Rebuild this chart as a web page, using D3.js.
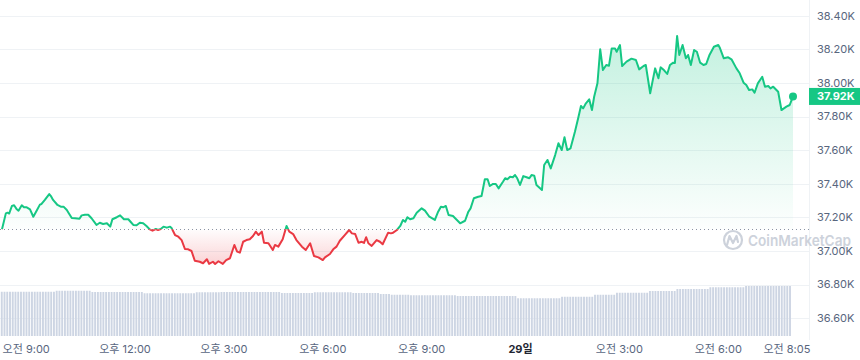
<!DOCTYPE html>
<html lang="ko">
<head>
<meta charset="utf-8">
<title>BTC 1D</title>
<script src="https://cdn.jsdelivr.net/npm/d3@7"></script>
<style>
body { margin: 0; background: #fff; }
svg { display: block; font-family: Inter, "Noto Sans CJK KR", sans-serif; }
.grid line { stroke: #eff2f5; stroke-width: 1; }
.ylab { fill: #58667e; font-size: 11px; }
.xlab { fill: #58667e; font-size: 11px; }
</style>
</head>
<body>
<script>

// price series (5-min candles)
var times = [
  "08:16","08:23","08:26","08:29","08:34","08:38","08:43","08:46","08:52","08:56",
  "09:01","09:07","09:13","09:19","09:25","09:28","09:34","09:42","09:45","09:49","09:57",
  "10:03","10:08","10:14","10:17","10:23","10:29","10:37","10:41","10:47","10:53","10:59",
  "11:08","11:14","11:20","11:27","11:33","11:37","11:45","11:51","11:58",
  "12:06","12:10","12:15","12:21","12:27","12:33","12:39","12:45","12:50","12:56",
  "13:00","13:05","13:10","13:16","13:22","13:25","13:31","13:37","13:43","13:49","13:55",
  "14:01","14:07","14:16","14:22","14:29","14:33","14:40","14:44","14:50","14:58",
  "15:04","15:11","15:19","15:24","15:29","15:35","15:41","15:47","15:53","15:58",
  "16:03","16:09","16:13","16:21","16:29","16:33","16:39","16:47","16:54","16:59",
  "17:06","17:12","17:22","17:29","17:37","17:44","17:52",
  "18:00","18:04","18:13","18:19","18:25","18:31","18:40","18:48","18:53","18:59",
  "19:05","19:11","19:15","19:19","19:23","19:29","19:38","19:44","19:49","19:59",
  "20:04","20:08","20:15","20:21","20:26","20:30","20:34","20:39","20:45","20:51",
  "21:00","21:06","21:14","21:24","21:30","21:35","21:39","21:44","21:49","21:57",
  "22:01","22:10","22:19","22:25","22:29","22:35","22:43","22:49","22:55",
  "23:00","23:04","23:10","23:15","23:20","23:28","23:32","23:36","23:41","23:46","23:50","23:54","23:59",
  "00:05","00:11","00:16","00:20","00:25","00:29","00:39","00:43","00:49","00:55",
  "01:03","01:09","01:15","01:20","01:25","01:31","01:39","01:45","01:50","01:54","01:59",
  "02:05","02:10","02:14","02:20","02:25","02:30","02:36","02:41","02:46","02:52","02:55",
  "03:01","03:05","03:13","03:22","03:30","03:36","03:44","03:48","03:56",
  "04:05","04:11","04:15","04:21","04:27","04:32","04:38","04:41","04:45","04:49","04:55",
  "05:01","05:05","05:10","05:16","05:21","05:27","05:33","05:38","05:44","05:52",
  "06:00","06:03","06:10","06:18","06:24","06:33","06:39","06:46","06:51","06:56",
  "07:02","07:06","07:12","07:20","07:25","07:31","07:35","07:40","07:49","07:55",
  "08:04","08:10","08:16"
];
var prices = [
  37130,37224,37228,37223,37268,37272,37248,37240,37272,37260,
  37260,37248,37204,37240,37276,37280,37304,37339,37327,37304,37274,
  37264,37264,37244,37228,37196,37195,37192,37212,37216,37216,37195,
  37155,37168,37161,37165,37145,37189,37201,37212,37189,
  37189,37174,37155,37153,37168,37165,37149,37129,37121,37131,
  37125,37131,37145,37139,37145,37135,37095,37085,37065,37012,37010,
  37000,36942,36936,36927,36951,36923,36936,36923,36939,36923,
  36946,36957,37036,36996,36990,37055,37065,37070,37089,37115,
  37095,37115,37049,37046,37006,37036,37026,37070,37149,37115,
  37101,37065,37026,37006,37046,36970,36962,
  36946,36962,36982,37010,37026,37061,37095,37125,37105,37101,
  37049,37055,37048,37082,37046,37030,37065,37055,37040,37109,
  37105,37109,37125,37149,37185,37174,37201,37189,37195,37228,
  37254,37240,37204,37185,37234,37264,37260,37268,37214,37208,
  37195,37165,37180,37234,37254,37314,37323,37327,37427,
  37427,37387,37399,37399,37373,37412,37433,37427,37442,37439,37452,37433,37393,
  37446,37439,37433,37452,37448,37393,37363,37512,37542,37492,
  37571,37641,37601,37677,37601,37611,37710,37792,37863,37849,37879,
  37903,37839,37918,37998,38201,38077,38107,38103,38206,38206,38186,
  38226,38101,38127,38145,38137,38081,38101,38107,37939,
  38087,38028,38093,38077,38054,38107,38121,38119,38280,38167,38226,
  38147,38167,38107,38196,38186,38121,38107,38113,38167,38216,
  38226,38208,38147,38153,38141,38087,38058,38002,37988,37958,
  37962,37942,37998,38037,37978,37982,37968,37978,37948,37839,
  37859,37869,37920
];

// 24h volume, one bar per 5 minutes, in billions USD
var volumes = [
  17.7,17.7,17.7,17.7,17.7,17.7,17.7,17.7,17.7,17.7,17.7,17.7,
  17.7,17.7,17.7,17.7,17.7,17.7,17.7,17.7,18.1,18.1,18.1,18.1,
  18.1,18.1,18.1,18.1,18.1,18.1,18.1,18.1,18.1,17.6,17.6,17.6,
  17.6,17.6,17.6,17.6,17.6,17.6,17.6,17.6,17.6,17.6,17.6,17.6,
  17.6,17.6,17.6,17.6,17.1,17.1,17.1,17.1,17.1,17.1,17.1,17.1,
  17.1,17.1,17.1,17.1,17.1,17.1,17.1,17.1,17.1,17.1,17.1,17.5,
  17.5,17.5,17.5,17.5,17.5,17.5,17.5,17.5,17.6,17.6,17.6,17.6,
  17.6,17.6,17.6,17.6,17.6,17.6,17.6,17.6,17.6,17.6,17.6,17.6,
  17.6,17.6,17.6,17.6,17.6,17.6,17.2,17.2,17.2,17.2,17.2,17.2,
  17.2,17.2,17.2,17.2,17.2,17.2,17.5,17.5,17.5,17.5,17.5,17.5,
  17.5,17.5,17.5,17.5,17.5,17.5,17.5,17.5,17.2,17.2,17.2,17.2,
  17.2,17.2,17.2,17.2,17.2,17.2,16.8,16.8,16.8,16.8,16.5,16.5,
  16.5,16.5,16.5,16.5,16.5,16.3,16.3,16.3,16.3,16.3,16.3,16.3,
  16.3,16.3,16.3,16.3,16.3,16.3,16.3,16.3,16.3,16.3,16.0,16.0,
  16.0,16.0,16.0,16.0,16.0,16.0,16.0,16.0,16.0,16.0,16.0,16.0,
  16.0,16.0,16.0,16.0,16.0,16.0,16.0,16.0,15.1,15.1,15.1,15.1,
  15.1,15.1,15.1,15.1,15.1,15.1,15.1,15.1,15.1,15.1,15.1,15.1,
  15.7,15.7,15.7,15.7,15.7,15.7,15.7,15.7,15.7,15.7,15.7,15.7,
  16.5,16.5,16.5,16.5,16.5,16.5,16.5,16.5,17.3,17.3,17.3,17.3,
  17.3,17.3,17.3,17.3,17.3,17.3,17.3,17.3,18.0,18.0,18.0,18.0,
  18.0,18.0,18.0,18.0,18.0,18.0,18.8,18.8,18.8,18.8,18.8,18.8,
  18.8,18.8,18.8,18.8,18.8,18.8,19.5,19.5,19.5,19.5,19.5,19.5,
  19.5,19.5,19.5,19.5,19.5,19.5,19.5,20.0,20.0,20.0,20.0,20.0,
  20.0,20.0,20.0,20.0,20.0,20.0,20.0,20.0,20.0,20.0,20.0,20.0
];

var yTicks = [36600, 36800, 37000, 37200, 37400, 37600, 37800, 38000, 38200, 38400];
var xTickTimes = ["2023-11-28 09:00","2023-11-28 12:00","2023-11-28 15:00","2023-11-28 18:00",
                  "2023-11-28 21:00","2023-11-29 00:00","2023-11-29 03:00","2023-11-29 06:00","2023-11-29 08:05"];
var xTickLabels = ["오전 9:00","오후 12:00","오후 3:00","오후 6:00","오후 9:00","29일","오전 3:00","오전 6:00","오전 8:05"];

var green = "#16c784", red = "#ea3943";
var width = 860, height = 360;

var parseFull = d3.timeParse("%Y-%m-%d %H:%M");
var day = 28, prevMin = -1;
var data = times.map(function(t, i) {
  var hm = t.split(":"), m = +hm[0] * 60 + +hm[1];
  if (m < prevMin) day++;
  prevMin = m;
  return { date: parseFull("2023-11-" + day + " " + t), price: prices[i] };
});
var start = data[0].date, end = data[data.length - 1].date;

var x = d3.scaleTime().domain([start, end]).range([2, 793]);
var y = d3.scaleLinear().domain([36600, 38400]).range([318.2, 15.8]);
var yVol = d3.scaleLinear().domain([0, 20]).range([336, 286]);

var svg = d3.select("body").append("svg")
    .attr("width", width)
    .attr("height", height);

var defs = svg.append("defs");
var base = prices[0];
var yBase = y(base);

var gUp = defs.append("linearGradient").attr("id", "gUp")
    .attr("gradientUnits", "userSpaceOnUse")
    .attr("x1", 0).attr("x2", 0).attr("y1", y(38300)).attr("y2", yBase);
gUp.append("stop").attr("offset", 0).attr("stop-color", green).attr("stop-opacity", 0.26);
gUp.append("stop").attr("offset", 1).attr("stop-color", green).attr("stop-opacity", 0.01);

var gDn = defs.append("linearGradient").attr("id", "gDn")
    .attr("gradientUnits", "userSpaceOnUse")
    .attr("x1", 0).attr("x2", 0).attr("y1", yBase).attr("y2", y(36920));
gDn.append("stop").attr("offset", 0).attr("stop-color", red).attr("stop-opacity", 0.01);
gDn.append("stop").attr("offset", 1).attr("stop-color", red).attr("stop-opacity", 0.22);

defs.append("clipPath").attr("id", "above").append("rect")
    .attr("x", 0).attr("y", 0).attr("width", width).attr("height", yBase);
defs.append("clipPath").attr("id", "below").append("rect")
    .attr("x", 0).attr("y", yBase).attr("width", width).attr("height", height - yBase);

// grid
svg.append("g").attr("class", "grid")
  .selectAll("line").data(yTicks).enter().append("line")
    .attr("x1", 0).attr("x2", 809)
    .attr("y1", function(d) { return Math.round(y(d)) + 0.5; })
    .attr("y2", function(d) { return Math.round(y(d)) + 0.5; });
svg.append("line")
    .attr("x1", 809.5).attr("x2", 809.5).attr("y1", 0).attr("y2", 340)
    .attr("stroke", "#eff2f5");

// volume bars
svg.append("g").selectAll("rect").data(volumes).enter().append("rect")
    .attr("x", function(d, i) { return x(d3.timeMinute.offset(start, i * 5)) - 1.2; })
    .attr("width", 1.9)
    .attr("y", function(d) { return yVol(d); })
    .attr("height", function(d) { return yVol(0) - yVol(d); })
    .attr("fill", "#cdd5e3");

// watermark
var wm = svg.append("g").attr("fill", "none").attr("stroke", "#cdd2db");
wm.append("circle").attr("cx", 733).attr("cy", 240).attr("r", 9).attr("stroke-width", 2.2);
wm.append("path").attr("stroke-width", 2.2).attr("stroke-linejoin", "round").attr("stroke-linecap", "round")
    .attr("d", "M727,245 L729.5,236 L733,243 L736.5,236 L738,242");
svg.append("text")
    .attr("x", 748).attr("y", 246)
    .attr("fill", "#cdd2db")
    .attr("textLength", 103).attr("lengthAdjust", "spacingAndGlyphs")
    .style("font-size", "15px").style("font-weight", 600)
    .text("CoinMarketCap");

// areas
var area = d3.area()
    .x(function(d) { return x(d.date); })
    .y0(yBase)
    .y1(function(d) { return y(d.price); });

svg.append("path").datum(data)
    .attr("clip-path", "url(#above)")
    .attr("fill", "url(#gUp)")
    .attr("d", area);
svg.append("path").datum(data)
    .attr("clip-path", "url(#below)")
    .attr("fill", "url(#gDn)")
    .attr("d", area);

// baseline
svg.append("line")
    .attr("x1", 0).attr("x2", 809)
    .attr("y1", Math.round(yBase) + 0.5).attr("y2", Math.round(yBase) + 0.5)
    .attr("stroke", "#8a93a3").attr("stroke-dasharray", "1,3");

// price line
var line = d3.line()
    .x(function(d) { return x(d.date); })
    .y(function(d) { return y(d.price); });

svg.append("path").datum(data)
    .attr("clip-path", "url(#above)")
    .attr("fill", "none").attr("stroke", green).attr("stroke-width", 2)
    .attr("stroke-linejoin", "round")
    .attr("d", line);
svg.append("path").datum(data)
    .attr("clip-path", "url(#below)")
    .attr("fill", "none").attr("stroke", red).attr("stroke-width", 2)
    .attr("stroke-linejoin", "round")
    .attr("d", line);

var last = data[data.length - 1];
svg.append("circle")
    .attr("cx", x(last.date)).attr("cy", y(last.price)).attr("r", 4)
    .attr("fill", green);

// y labels
svg.append("g").selectAll("text").data(yTicks).enter().append("text")
    .attr("class", "ylab")
    .attr("x", 817)
    .attr("y", function(d) { return y(d); })
    .attr("dy", "0.35em")
    .text(function(d) { return (d / 1000).toFixed(2) + "K"; });

// last price tag
svg.append("rect")
    .attr("x", 809).attr("y", y(last.price) - 8.5)
    .attr("width", 51).attr("height", 17)
    .attr("fill", green);
svg.append("text")
    .attr("x", 817).attr("y", y(last.price)).attr("dy", "0.35em")
    .attr("fill", "#fff")
    .style("font-size", "11px").style("font-weight", 700)
    .text((last.price / 1000).toFixed(2) + "K");

// x labels
svg.append("g").selectAll("text").data(xTickTimes).enter().append("text")
    .attr("class", "xlab")
    .attr("x", function(d) { return x(parseFull(d)); })
    .attr("y", 353)
    .attr("text-anchor", "middle")
    .style("font-weight", function(d, i) { return xTickLabels[i] === "29일" ? 700 : 400; })
    .style("fill", function(d, i) { return xTickLabels[i] === "29일" ? "#222531" : null; })
    .text(function(d, i) { return xTickLabels[i]; });

</script>
</body>
</html>
